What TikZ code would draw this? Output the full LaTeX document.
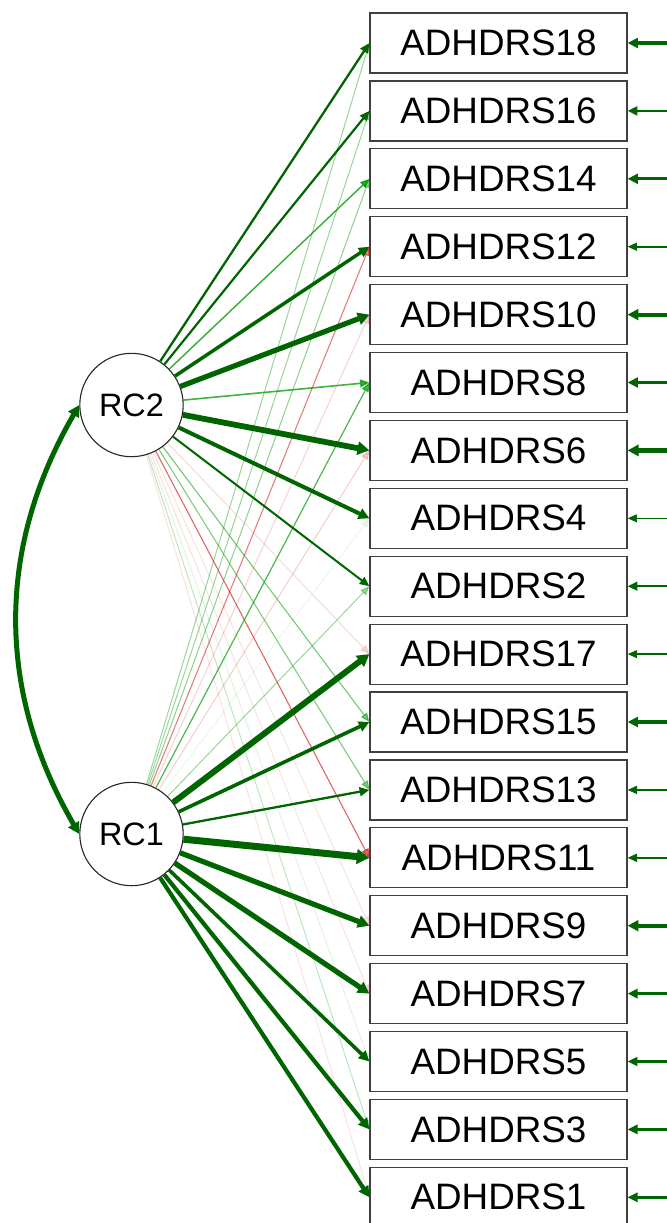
\documentclass[tikz,border=0pt]{standalone}
\usepackage{fontspec}
\setmainfont{Liberation Sans}
\usetikzlibrary{arrows.meta}
\definecolor{dg}{RGB}{0,100,0}
\definecolor{mg}{RGB}{0,153,0}
\definecolor{rd}{RGB}{204,0,0}
\definecolor{boxc}{RGB}{64,64,64}
\begin{document}
\begin{tikzpicture}[x=0.5pt,y=-0.5pt,
  item/.style={draw=boxc, line width=0.6pt, fill=white, minimum width=128.5pt, minimum height=30pt, inner sep=0pt, font=\fontsize{18.4}{20}\selectfont},
  lat/.style={circle, draw=black!85, line width=0.55pt, fill=white, minimum size=51.7pt, inner sep=0pt, font=\fontsize{16.2}{18}\selectfont},
  ld/.style={-{Triangle[length=4.2pt 0.6,width=3pt 1.2]}, line width=#1},
  cov/.style={{Triangle[length=4.2pt 0.6,width=3pt 1.2]}-{Triangle[length=4.2pt 0.6,width=3pt 1.2]}, line width=#1, draw=dg}]
\useasboundingbox (0,0) rectangle (667,1223);
% latent variables
\node[lat] (RC2) at (131.5,405) {RC2};
\node[lat] (RC1) at (131.5,834) {RC1};
% observed items
\foreach \n [count=\i from 0] in {18,16,14,12,10,8,6,4,2,17,15,13,11,9,7,5,3,1} {
  \node[item] (b\n) at (498.5,{43+67.9*\i}) {ADHDRS\n};
  \coordinate (r\n) at (667,{43+67.9*\i});
}
% faint cross loadings first
\foreach \s/\t/\w/\c/\o in {
  RC2/17/0.5pt/rd/0.15, RC2/15/0.55pt/mg/0.55, RC2/13/0.55pt/mg/0.5, RC2/11/0.55pt/rd/0.6,
  RC2/9/0.5pt/rd/0.12, RC2/7/0.5pt/rd/0.12, RC2/5/0.5pt/mg/0.12, RC2/3/0.5pt/mg/0.25, RC2/1/0.5pt/rd/0.12,
  RC1/18/0.5pt/mg/0.4, RC1/16/0.5pt/mg/0.4, RC1/14/0.5pt/mg/0.45, RC1/12/0.55pt/rd/0.5,
  RC1/10/0.5pt/rd/0.18, RC1/8/0.6pt/mg/0.7, RC1/6/0.5pt/rd/0.2, RC1/4/0.5pt/mg/0.08, RC1/2/0.5pt/mg/0.4,
  RC2/14/0.7pt/mg/0.8, RC2/8/0.8pt/mg/0.75} {
  \draw[ld=\w, draw=\c, opacity=\o] (\s) -- (b\t.west);
}
% main loadings
\foreach \s/\t/\w in {
  RC2/18/1.15pt, RC2/16/1.1pt, RC2/12/1.75pt, RC2/10/2.6pt, RC2/6/2.9pt, RC2/4/2pt, RC2/2/1pt,
  RC1/17/3pt, RC1/15/1.8pt, RC1/13/1.15pt, RC1/11/3.5pt, RC1/9/2.6pt, RC1/7/2.6pt, RC1/5/1.8pt, RC1/3/2.1pt, RC1/1/2.1pt} {
  \draw[ld=\w, draw=dg] (\s) -- (b\t.west);
}
% residuals
\foreach \n/\w in {18/1.6pt,16/1.2pt,14/1.6pt,12/0.8pt,10/1.9pt,8/1.6pt,6/2.1pt,4/0.7pt,2/1.1pt,
  17/0.7pt,15/1.6pt,13/0.85pt,11/0.85pt,9/1.9pt,7/1.35pt,5/1.1pt,3/1.35pt,1/1.35pt} {
  \draw[ld=\w, draw=dg] (r\n) -- (b\n.east);
}
% factor covariance
\draw[cov=2.5pt] (RC2.west) .. controls +(-83,143) and +(-83,-143) .. (RC1.west);
\end{tikzpicture}
\end{document}
